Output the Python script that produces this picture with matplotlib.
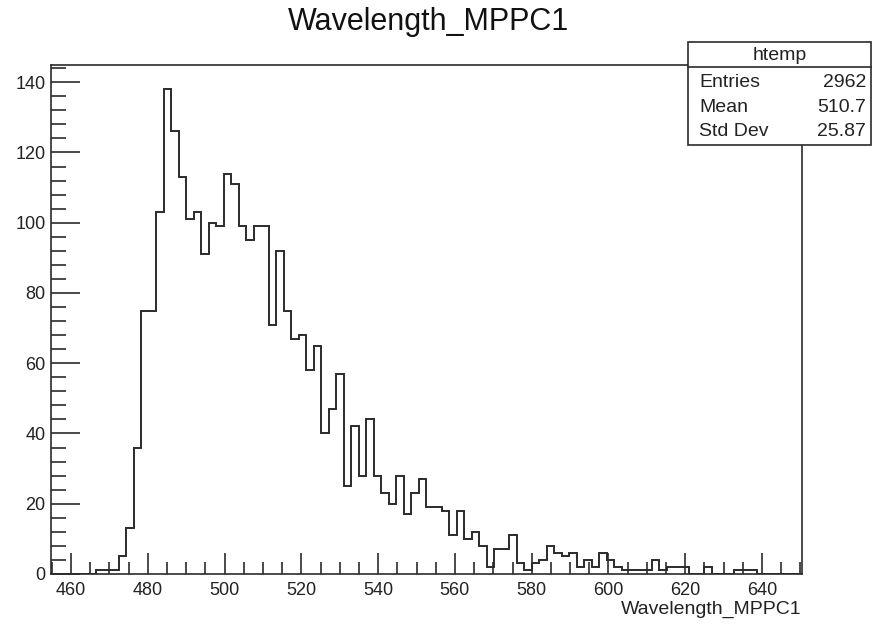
import numpy as np
import matplotlib
matplotlib.use("Agg")
import matplotlib.pyplot as plt
from matplotlib.patches import Rectangle
from matplotlib.lines import Line2D
from matplotlib.ticker import MultipleLocator

plt.rcParams['font.family'] = ['Liberation Sans', 'DejaVu Sans']

# histogram: 100 bins, counts
x_low = 454.8
x_high = 650.4
n_bins = 100
counts = [0, 0, 0, 0, 0, 0, 1, 1, 1, 5,
          13, 36, 75, 75, 103, 138, 126, 113, 101, 103,
          91, 100, 99, 114, 111, 99, 95, 99, 99, 71,
          92, 75, 67, 68, 58, 65, 40, 47, 57, 25,
          42, 28, 44, 28, 23, 20, 28, 17, 23, 27,
          19, 19, 18, 11, 18, 10, 12, 8, 2, 7,
          7, 11, 3, 1, 3, 4, 8, 6, 5, 6,
          2, 4, 2, 6, 4, 2, 1, 1, 1, 1,
          4, 1, 2, 2, 2, 0, 0, 2, 0, 0,
          0, 1, 1, 1, 0, 0, 0, 0, 0, 0]

stat_names = ["Entries", "Mean", "Std Dev"]
stat_values = ["2962", "510.7", "25.87"]

edges = np.linspace(x_low, x_high, n_bins + 1)
col = "#2b2b2b"

fig = plt.figure(figsize=(8.72, 6.24), dpi=100)
ax = fig.add_axes([51/872, 50/624, 751/872, 509/624])

ax.stairs(counts, edges, color=col, linewidth=1.4)

ax.set_xlim(x_low, x_high)
ax.set_ylim(0, max(counts) * 1.05)

ax.xaxis.set_major_locator(MultipleLocator(20))
ax.xaxis.set_minor_locator(MultipleLocator(5))
ax.yaxis.set_major_locator(MultipleLocator(20))
ax.yaxis.set_minor_locator(MultipleLocator(4))
ax.tick_params(axis='both', which='both', direction='in', color=col, width=1.2,
               labelsize=13, labelcolor='#222222', top=False, right=False)
ax.tick_params(axis='x', which='major', length=15, pad=6)
ax.tick_params(axis='x', which='minor', length=9)
ax.tick_params(axis='y', which='major', length=21, pad=4)
ax.tick_params(axis='y', which='minor', length=11)
for s in ax.spines.values():
    s.set_color(col)
    s.set_linewidth(1.2)

ax.set_xlabel("Wavelength_MPPC1", loc='right', fontsize=14, color='#222222', labelpad=1)

fig.text(428/872, 1 - 22/624, "Wavelength_MPPC1", ha='center', va='center',
         fontsize=22, color='#111111')

# stats box
bx0, bx1 = 688/872, 871/872
by0, by1 = 1 - 145/624, 1 - 42/624
fig.add_artist(Rectangle((bx0, by0), bx1 - bx0, by1 - by0, transform=fig.transFigure,
                         facecolor='white', edgecolor=col, linewidth=1.2, zorder=5))
fig.add_artist(Line2D([bx0, bx1], [1 - 67/624, 1 - 67/624], transform=fig.transFigure,
                      color=col, linewidth=1.2, zorder=6))
fig.text((bx0 + bx1) / 2, 1 - 55/624, "htemp", ha='center', va='center',
         fontsize=14, color='#222222', zorder=7)
rows_y = [82.5, 107, 132]
for name, val, yy in zip(stat_names, stat_values, rows_y):
    fig.text(699/872, 1 - yy/624, name, ha='left', va='center', fontsize=14,
             color='#222222', zorder=7)
    fig.text(866/872, 1 - yy/624, val, ha='right', va='center', fontsize=14,
             color='#222222', zorder=7)

fig.savefig("out.png", dpi=100)
